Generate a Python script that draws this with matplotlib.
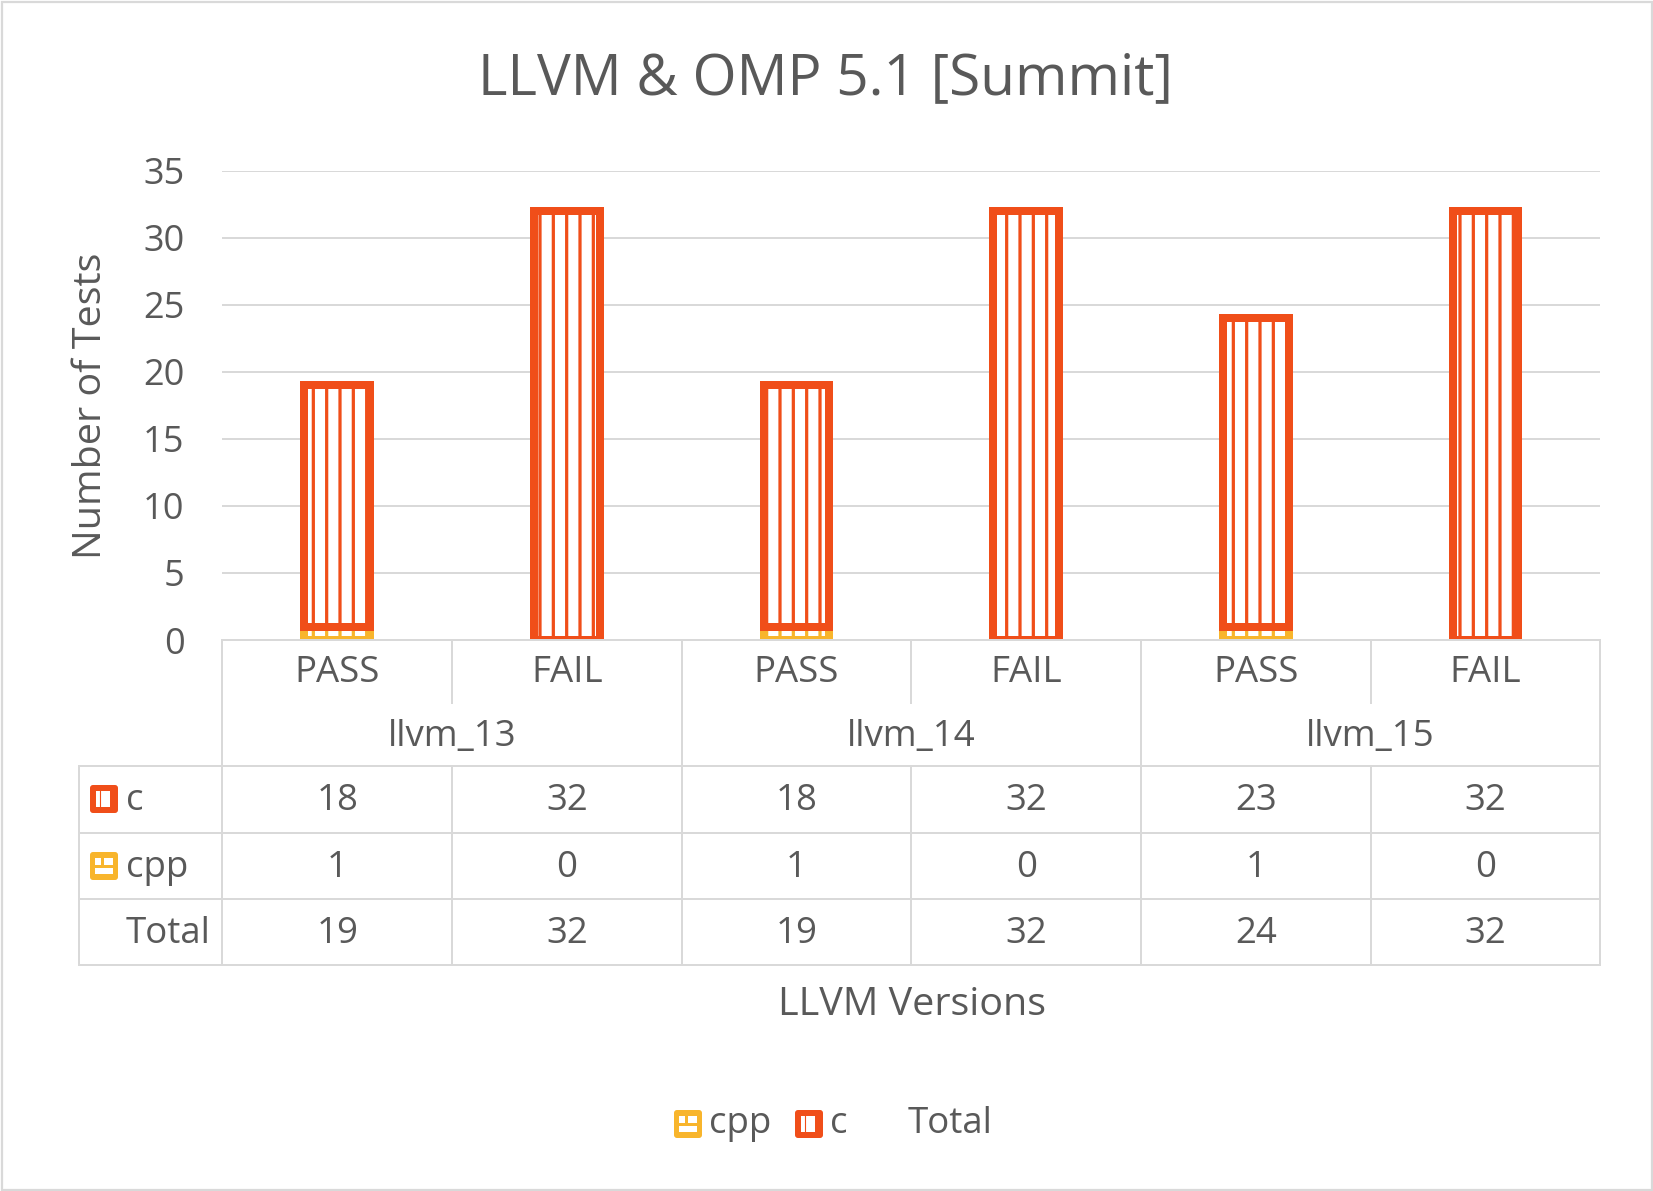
import matplotlib.pyplot as plt
from matplotlib.patches import Rectangle, FancyBboxPatch
import numpy as np

plt.rcParams['font.family'] = ['Open Sans', 'DejaVu Sans']
plt.rcParams['hatch.linewidth'] = 2.9

# data
groups = ['llvm_13', 'llvm_14', 'llvm_15']
results = ['PASS', 'FAIL']
c_vals = [18, 32, 18, 32, 23, 32]
cpp_vals = [1, 0, 1, 0, 1, 0]
series = ['cpp', 'c', 'Total']
totals = [c + p for c, p in zip(c_vals, cpp_vals)]

RED = '#F04E19'
YEL = '#F8B52C'
GRID = '#D9D9D9'
TXT = '#595959'

W, H = 1653, 1191
DPI = 80
fig = plt.figure(figsize=(W / DPI, H / DPI), dpi=DPI)

# overlay in pixel coordinates for the table, labels and legend
ov = fig.add_axes([0, 0, 1, 1], zorder=0)
ov.set_xlim(0, W)
ov.set_ylim(H, 0)
ov.axis('off')

left, right = 222.4, 1600.3
top, base = 170.8, 640.0
ax = fig.add_axes([left / W, (H - base) / H, (right - left) / W, (base - top) / H], zorder=1)
ax.set_facecolor('none')

x = np.arange(len(c_vals))
ax.bar(x, cpp_vals, width=0.285, color='white', edgecolor=YEL, hatch='|', linewidth=7.2, zorder=2)
ax.bar(x, c_vals, width=0.285, bottom=cpp_vals, color='white', edgecolor=RED, hatch='|',
       linewidth=7.2, zorder=3)

ax.set_xlim(-0.5, len(c_vals) - 0.5)
ax.set_ylim(0, 35)
ax.set_yticks(range(0, 36, 5))
ax.set_xticks([])
ax.yaxis.grid(True, color=GRID, linewidth=1.8)
ax.set_axisbelow(True)
for s in ['top', 'right', 'left']:
    ax.spines[s].set_visible(False)
ax.spines['bottom'].set_color(GRID)
ax.spines['bottom'].set_linewidth(1.8)
ax.spines['bottom'].set_zorder(4)
ax.tick_params(axis='y', length=0, labelsize=32.5, labelcolor=TXT, pad=34)

# title and axis labels
ov.text(825, 80, 'LLVM & OMP 5.1 [Summit]', ha='center', va='center', fontsize=51, color=TXT)
ov.text(91, 406, 'Number of Tests', ha='center', va='center', rotation=90, fontsize=35.5, color=TXT)
ov.text(912, 1005, 'LLVM Versions', ha='center', va='center', fontsize=35.5, color=TXT)

# data table under the axis
slot = (right - left) / len(c_vals)
rows = [640.0, 703.0, 766.3, 832.7, 899.1, 964.5]
lkw = dict(color=GRID, linewidth=1.8)
tleft = 79.0
for r in rows[2:]:
    ov.plot([tleft, right], [r, r], **lkw)
ov.plot([tleft, tleft], [rows[2], rows[-1]], **lkw)
for i in range(len(c_vals) + 1):
    xe = left + i * slot
    if i % 2 == 0:
        ov.plot([xe, xe], [rows[0], rows[-1]], **lkw)
    else:
        ov.plot([xe, xe], [rows[0], rows[1]], **lkw)
        ov.plot([xe, xe], [rows[2], rows[-1]], **lkw)

fs = 33
dy = 2
for i in range(len(c_vals)):
    xc = left + (i + 0.5) * slot
    ov.text(xc, (rows[0] + rows[1]) / 2 + dy, results[i % 2], ha='center', va='center', fontsize=fs, color=TXT)
    ov.text(xc, (rows[2] + rows[3]) / 2 + dy, str(c_vals[i]), ha='center', va='center', fontsize=fs, color=TXT)
    ov.text(xc, (rows[3] + rows[4]) / 2 + dy, str(cpp_vals[i]), ha='center', va='center', fontsize=fs, color=TXT)
    ov.text(xc, (rows[4] + rows[5]) / 2 + dy, str(totals[i]), ha='center', va='center', fontsize=fs, color=TXT)
for g, name in enumerate(groups):
    xc = left + (2 * g + 1) * slot
    ov.text(xc, (rows[1] + rows[2]) / 2 + dy, name, ha='center', va='center', fontsize=fs, color=TXT)


def draw_key(x0, y0, color, kind):
    ov.add_patch(FancyBboxPatch((x0 + 2, y0 + 2), 24, 24, boxstyle='round,pad=2,rounding_size=3',
                                facecolor=color, edgecolor='none'))
    if kind == 'c':
        ov.add_patch(Rectangle((x0 + 6, y0 + 6), 14, 16, facecolor='white', edgecolor='none'))
        ov.plot([x0 + 10, x0 + 10], [y0 + 6, y0 + 22], color=color, linewidth=1.0)
    else:
        ov.add_patch(Rectangle((x0 + 5, y0 + 6), 6, 7, facecolor='white', edgecolor='none'))
        ov.add_patch(Rectangle((x0 + 14, y0 + 6), 9, 7, facecolor='white', edgecolor='none'))
        ov.add_patch(Rectangle((x0 + 5, y0 + 16), 18, 6, facecolor='white', edgecolor='none'))


row_labels = ['c', 'cpp', 'Total']
draw_key(90, 785, RED, 'c')
draw_key(90, 852, YEL, 'cpp')
for k, lab in enumerate(row_labels):
    ov.text(126, (rows[2 + k] + rows[3 + k]) / 2 + dy, lab, ha='left', va='center', fontsize=fs, color=TXT)

# legend
ly = 1124
draw_key(674, ly - 14, YEL, 'cpp')
ov.text(709, ly, series[0], ha='left', va='center', fontsize=fs, color=TXT)
draw_key(795, ly - 14, RED, 'c')
ov.text(830, ly, series[1], ha='left', va='center', fontsize=fs, color=TXT)
ov.text(908, ly, series[2], ha='left', va='center', fontsize=fs, color=TXT)

# chart border
ov.add_patch(Rectangle((1.5, 1.5), W - 3, H - 3, fill=False, edgecolor=GRID, linewidth=2))

fig.savefig('out.png', dpi=DPI)
